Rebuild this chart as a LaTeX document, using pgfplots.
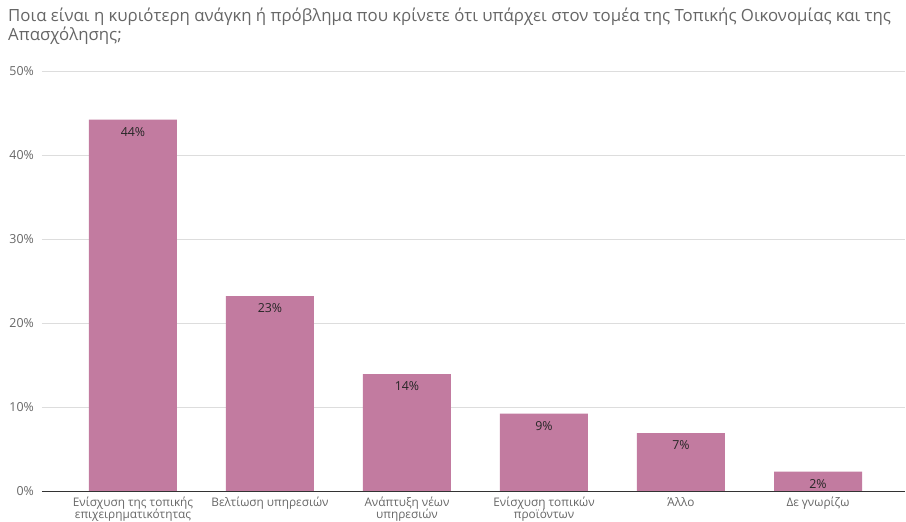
\documentclass[border=0pt]{standalone}
\usepackage{fontspec}
\setmainfont{Open Sans}
\usepackage{pgfplots}
\pgfplotsset{compat=1.18}
\definecolor{barcol}{HTML}{C27BA0}
\definecolor{txtgray}{HTML}{666666}
\definecolor{gridgray}{HTML}{DDDDDD}
\begin{document}
\begin{tikzpicture}
\path[use as bounding box] (-42pt,-31pt) rectangle (864pt,491pt);
\node[anchor=north west, align=left, font=\fontsize{16.8}{16.5}\selectfont, text=txtgray, inner sep=0pt]
  at (-34pt,483pt) {Ποια είναι η κυριότερη ανάγκη ή πρόβλημα που κρίνετε ότι υπάρχει στον τομέα της Τοπικής Οικονομίας και της\\Απασχόλησης;};
\begin{axis}[
    at={(0,0)}, anchor=south west,
    scale only axis,
    width=863pt, height=420pt,
    xmin=-0.664, xmax=5.635,
    ymin=0, ymax=50,
    ytick={0,10,20,30,40,50},
    yticklabel={\pgfmathprintnumber{\tick}\%},
    /pgf/number format/assume math mode=true,
    xtick=data,
    xticklabels={{Ενίσχυση της τοπικής\\[-2.2pt]επιχειρηματικότητας},{Βελτίωση υπηρεσιών},{Ανάπτυξη νέων\\[-2.2pt]υπηρεσιών},{Ενίσχυση τοπικών\\[-2.2pt]προϊόντων},{Άλλο},{Δε γνωρίζω}},
    xticklabel style={align=center, font=\fontsize{11.8}{14}\selectfont, text=txtgray, inner sep=0pt, yshift=-1.5pt},
    yticklabel style={font=\fontsize{12.4}{12}\selectfont, text=txtgray, inner sep=0pt, xshift=-8pt},
    tick style={draw=none},
    axis lines*=left,
    y axis line style={draw=none},
    x axis line style={draw=black!80, line width=0.9pt, -},
    ymajorgrids,
    grid style={gridgray, line width=0.8pt},
    ybar, bar width=88pt,
    nodes near coords={\pgfmathprintnumber[fixed,precision=0]{\pgfplotspointmeta}\%},
    every node near coord/.append style={anchor=north, yshift=-4pt, font=\fontsize{12.4}{12}\selectfont, text=black!85},
]
\addplot[fill=barcol, draw=none] coordinates {
    (0,44.2) (1,23.2) (2,13.9) (3,9.2) (4,6.9) (5,2.3)
};
\end{axis}
\end{tikzpicture}
\end{document}
